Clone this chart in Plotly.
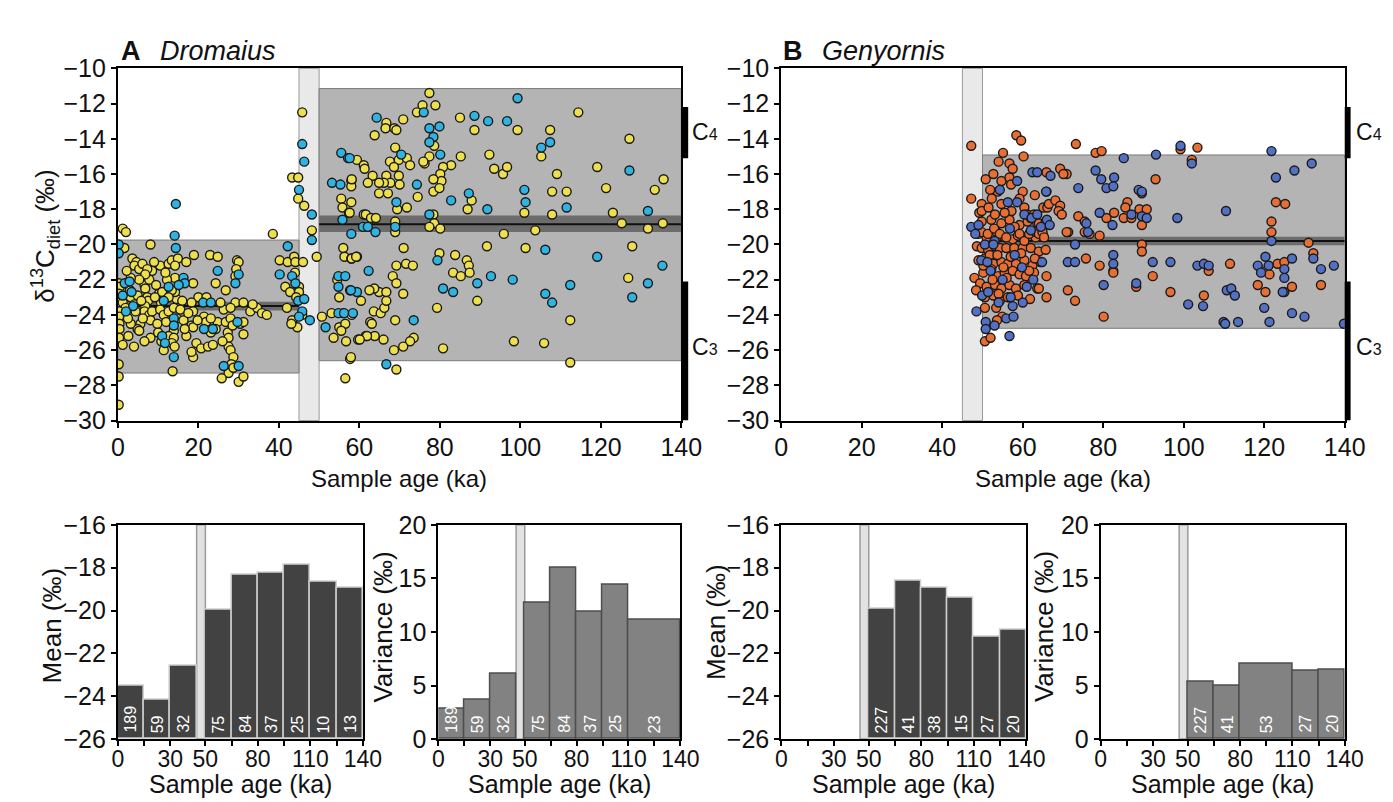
import plotly.graph_objects as go

W, H = 1393, 802
FONT = "Liberation Sans, Arial, Helvetica, sans-serif"

# ---------------- data: (sample age ka, d13C diet permil) ----------------
A_YELLOW = [
    (1.2,-19.1),(2.0,-19.3),(1.6,-20.2),(8.1,-20.0),(38.5,-19.4),
    (3.6,-20.8),(4.6,-21.0),(4.1,-21.2),(5.3,-21.4),(6.1,-21.1),
    (10.5,-21.2),(12.6,-21.1),(13.4,-20.9),(14.9,-20.8),(14.2,-21.2),
    (17.0,-21.0),(18.9,-20.6),(22.9,-20.6),(24.8,-20.7),
    (29.6,-20.9),(30.0,-21.0),(29.4,-21.4),(29.2,-21.8),
    (24.3,-22.2),(26.8,-22.6),(18.7,-22.2),(14.2,-21.9),
    (40.2,-20.9),(42.2,-21.0),(43.8,-20.7),(44.1,-21.0),(46.0,-21.0),
    (41.6,-22.4),(42.8,-22.7),(45.0,-22.4),(45.0,-22.7),(44.3,-23.0),
    (43.3,-24.3),(44.6,-24.7),(45.8,-24.0),(43.1,-24.5),
    (0.3,-22.2),(0.5,-22.4),(0.3,-22.8),(1.0,-23.0),(0.4,-23.3),(1.2,-23.3),(1.9,-23.6),
    (0.3,-23.8),(0.3,-24.1),(0.4,-24.5),(0.4,-24.8),(0.3,-25.3),(1.2,-25.7),
    (0.2,-26.8),(0.2,-27.5),(0.2,-29.1),
    (3.2,-23.0),(4.9,-22.9),(4.1,-23.4),(6.6,-22.3),(6.8,-22.5),(7.3,-23.0),(7.5,-23.2),
    (6.8,-23.5),(6.6,-23.8),(7.8,-24.0),(8.5,-23.8),(8.1,-24.3),(5.6,-24.5),(4.9,-24.8),
    (3.2,-24.5),(5.3,-24.9),(8.1,-25.3),(6.6,-25.5),
    (8.5,-21.5),(7.8,-22.0),(10.2,-22.8),(11.0,-22.7),(10.7,-23.3),(10.5,-23.7),(11.4,-24.0),
    (12.6,-23.8),(13.9,-23.6),(14.6,-23.1),(14.2,-22.7),(13.4,-22.6),(12.6,-23.0),
    (13.9,-24.9),(12.6,-25.2),(13.9,-25.3),(14.6,-24.2),(16.3,-24.3),(13.4,-25.6),(14.1,-25.8),
    (11.4,-26.0),(13.6,-27.2),
    (18.3,-24.6),(18.7,-24.7),(17.0,-25.2),(16.6,-24.8),(18.7,-26.4),(18.3,-26.1),(19.5,-25.6),
    (20.7,-25.9),(22.4,-25.8),(23.6,-25.7),(23.1,-25.0),(24.8,-24.4),(24.3,-24.8),(21.4,-24.1),
    (21.9,-24.4),(23.1,-24.2),(26.3,-23.7),(26.8,-24.4),(28.0,-24.2),(27.3,-25.0),(27.5,-25.3),
    (28.5,-24.6),(27.5,-25.8),(28.0,-26.0),(28.7,-26.4),(28.2,-26.8),(27.5,-27.3),(25.8,-27.6),
    (28.7,-27.0),(30.0,-27.8),(31.2,-27.5),(31.2,-25.1),(30.4,-24.5),(31.2,-24.4),
    (29.2,-23.3),(31.2,-23.3),(28.0,-23.6),(32.9,-23.8),(34.6,-23.6),(35.8,-23.9),
    (7.3,-21.4),(6.8,-21.7),(5.3,-22.0),(3.2,-21.9),
    (20.0,-23.0),(18.3,-23.3),(18.7,-23.8),(2.5,-24.2),(9.5,-22.3),(10.0,-25.0),(16.0,-23.2),
    (2.2,-21.5),(3.0,-22.6),(4.4,-23.8),(5.8,-23.2),(6.2,-24.2),(9.2,-23.0),(9.8,-24.5),
    (10.8,-25.5),(12.0,-24.4),(12.2,-22.0),(2.6,-25.2),(4.0,-25.8),(9.0,-21.0),(11.8,-21.6),
    (15.5,-23.7),(17.5,-23.9),(19.8,-24.3),(22.0,-23.0),(25.5,-23.3),(26.0,-25.5),(33.5,-23.4),
    (37.0,-24.0),(42.0,-23.6),(44.0,-21.6),
    (45.8,-12.5),(43.3,-16.2),(44.8,-16.2),(44.8,-17.4),(46.3,-17.8),(48.2,-19.2),(49.4,-20.7),
    (50.7,-24.1),(53.6,-25.3),(55.0,-24.7),(56.0,-23.9),(56.7,-25.5),(53.1,-23.9),
    (54.5,-22.0),(55.0,-23.0),(56.0,-20.2),(56.3,-20.7),(58.0,-20.8),(59.4,-20.7),
    (56.5,-24.5),(55.5,-24.9),(57.7,-26.5),(56.5,-27.6),(60.4,-23.2),(59.7,-25.4),(61.6,-25.2),
    (59.4,-15.2),(58.0,-16.4),(58.0,-16.7),(61.1,-15.5),(55.5,-17.4),(55.8,-17.9),(58.0,-17.6),
    (57.4,-18.2),(61.1,-18.3),
    (77.4,-11.4),(75.7,-12.1),(78.9,-12.1),(74.3,-12.5),(114.4,-12.5),(66.7,-13.1),(66.5,-13.4),
    (68.7,-13.4),(69.2,-13.5),(70.9,-12.9),(63.8,-13.8),
    (78.6,-14.4),(85.0,-12.8),(88.6,-13.5),(99.3,-13.5),(107.4,-13.5),(105.2,-15.0),(127.1,-14.0),
    (119.1,-15.6),(109.1,-16.0),(135.6,-16.3),(133.4,-16.9),(121.3,-16.8),(107.9,-17.0),
    (111.5,-17.0),(101.0,-18.2),(107.9,-18.3),(123.0,-18.2),(125.2,-18.8),(131.7,-19.1),
    (135.4,-18.8),(95.9,-19.4),(103.7,-19.2),(85.2,-15.0),(92.3,-14.9),(93.5,-15.7),(95.7,-16.0),
    (96.7,-15.6),(86.9,-18.0),(87.9,-17.5),
    (82.8,-15.5),(80.8,-15.6),(80.1,-16.0),(80.4,-16.4),(78.4,-16.3),(78.4,-17.0),(79.9,-16.8),
    (76.2,-15.4),(77.4,-15.0),(74.5,-17.3),
    (67.6,-15.3),(69.8,-15.2),(71.8,-15.1),(68.9,-14.5),(72.6,-15.5),(68.6,-15.6),(69.8,-16.1),
    (66.7,-16.1),(70.0,-16.6),(67.7,-16.5),(66.1,-16.5),(64.9,-16.5),(63.3,-16.1),(62.1,-16.5),
    (61.3,-15.7),(58.1,-16.3),(64.9,-17.1),(67.1,-17.1),(69.4,-18.0),(71.8,-17.9),(57.6,-18.2),
    (61.6,-18.3),(62.9,-18.5),(64.1,-18.5),(68.9,-18.7),(68.9,-19.3),(78.4,-18.3),(78.6,-18.8),
    (77.4,-19.0),(80.1,-19.1),(75.9,-15.3),
    (71.0,-20.2),(79.9,-20.5),(83.8,-20.6),(86.7,-20.9),(87.2,-21.2),(87.4,-21.6),(83.3,-21.6),
    (85.2,-21.8),(91.7,-20.1),(101.3,-20.2),(127.8,-20.1),(126.8,-21.9),(89.3,-23.2),(79.3,-23.6),
    (112.4,-24.3),(98.4,-25.5),(105.9,-25.6),(112.4,-26.7),(80.8,-25.9),(73.5,-25.3),(72.6,-25.5),
    (70.9,-25.8),(68.6,-26.0),(66.0,-25.4),(63.8,-25.2),(61.9,-25.2),(60.1,-25.4),(69.2,-27.1),
    (68.9,-24.3),(57.9,-26.4),(58.1,-24.0),
    (63.6,-23.8),(65.3,-23.9),(66.2,-23.6),(66.7,-23.2),(64.9,-22.7),(66.7,-22.7),(63.7,-22.5),
    (62.5,-22.6),(68.3,-21.8),(69.2,-21.2),(69.2,-22.2),(70.9,-22.8),(71.6,-21.1),(73.3,-21.2),
    (58.1,-20.8),(59.2,-20.7),(62.7,-24.4),(63.1,-24.5),
]
A_CYAN = [
    (14.4,-17.7),(14.1,-19.5),(14.4,-20.2),(42.2,-20.1),(0.2,-20.0),(0.2,-20.5),(45.8,-14.3),
    (46.3,-15.3),(45.0,-16.9),(48.2,-18.3),(48.2,-19.75),
    (24.8,-21.5),(30.0,-21.7),(29.2,-22.2),(16.3,-21.9),(16.6,-22.2),(15.1,-22.3),(40.2,-21.7),
    (43.3,-21.8),(44.1,-22.2),(44.8,-23.2),(46.3,-23.1),(45.8,-23.8),(45.0,-24.1),(47.7,-24.3),
    (1.7,-22.2),(2.9,-22.1),(3.4,-22.7),(3.8,-23.5),(2.0,-23.8),(1.2,-22.9),
    (11.4,-23.2),(12.6,-22.4),(13.9,-24.2),(11.0,-25.2),(11.7,-25.6),(13.9,-26.4),(13.9,-24.6),
    (21.4,-24.8),(23.6,-24.8),(26.3,-26.9),(30.0,-26.9),(21.2,-23.3),(23.1,-23.3),(29.7,-24.4),
    (51.6,-24.7),(54.8,-23.9),(56.2,-23.9),(58.4,-23.9),(54.8,-21.8),(54.8,-22.4),(56.5,-21.8),
    (57.7,-22.6),(59.4,-22.7),(58.0,-19.4),
    (53.2,-16.5),(55.3,-16.6),(55.5,-14.8),(57.2,-15.1),(55.8,-18.6),(60.9,-19.0),
    (76.0,-12.5),(99.3,-11.7),(64.3,-12.8),(77.4,-13.4),(79.9,-13.3),(78.4,-13.9),(77.4,-14.2),
    (80.1,-14.9),(88.6,-12.7),(92.0,-13.0),(96.7,-13.0),(107.4,-14.2),(105.2,-14.5),(127.1,-15.8),
    (101.0,-16.9),(101.3,-17.6),(111.5,-17.9),(131.7,-18.1),(91.8,-18.0),(87.2,-17.1),(82.8,-17.5),
    (74.3,-16.6),(57.6,-15.1),(69.2,-17.6),(62.1,-19.0),(64.0,-19.3),(68.9,-19.0),(77.4,-18.3),
    (70.4,-14.9),
    (79.4,-20.9),(92.7,-21.8),(89.3,-22.2),(98.1,-22.0),(106.2,-20.3),(119.1,-20.7),(135.3,-21.2),
    (131.7,-22.2),(127.8,-23.0),(112.4,-22.3),(106.2,-22.8),(107.9,-23.3),(80.8,-22.5),(83.3,-22.7),
    (73.5,-24.3),(66.7,-26.8),(57.9,-22.6),(62.3,-21.5),
]
B_ORANGE = [
    (49.8,-18.7),(52.2,-18.6),(54.7,-18.8),(56.7,-18.6),(59.2,-18.9),(61.2,-18.7),(63.6,-18.8),
    (64.8,-19.2),(49.0,-19.4),(51.0,-19.6),(53.5,-19.3),(55.5,-19.6),(57.5,-19.7),(58.8,-19.5),
    (60.4,-19.6),(62.0,-19.3),(63.2,-19.6),(65.1,-19.5),
    (48.6,-20.1),(49.8,-20.2),(51.4,-20.3),(53.1,-20.1),(54.3,-20.2),(55.9,-20.2),(57.9,-20.2),
    (60.0,-20.2),(62.0,-20.2),(64.0,-20.4),(65.7,-20.3),
    (49.0,-20.9),(50.6,-20.8),(52.7,-21.1),(54.7,-21.0),(56.3,-21.1),(58.3,-21.1),(60.4,-20.9),
    (62.4,-21.2),(64.4,-21.0),
    (48.0,-21.9),(50.2,-21.6),(52.2,-21.4),(53.9,-21.8),(55.5,-21.6),(57.5,-21.5),(59.2,-21.7),
    (60.8,-21.8),(62.8,-21.6),(65.9,-21.8),
    (49.4,-22.2),(51.0,-22.4),(53.1,-22.3),(54.7,-22.5),(56.7,-22.3),(58.3,-22.5),(60.4,-22.3),
    (63.6,-22.5),(50.6,-23.0),(52.7,-22.9),(54.3,-23.2),(56.3,-23.0),(65.9,-23.0),
    (50.6,-23.6),(54.9,-24.1),(53.6,-24.3),(50.6,-25.5),(52.0,-25.3),
    (51.8,-20.6),(53.7,-20.6),(55.2,-21.3),(57.0,-20.7),(59.6,-20.5),(61.6,-21.5),(63.0,-20.8),
    (50.2,-21.2),(52.5,-22.0),(54.0,-22.8),(56.0,-21.9),(58.8,-22.9),(61.8,-23.1),(53.4,-23.6),
    (48.4,-22.6),(49.2,-18.2),(57.2,-18.1),(60.0,-17.0),(63.0,-17.2),(53.8,-17.0),
    (47.2,-14.4),(58.4,-13.8),(59.6,-14.1),(60.2,-15.0),(55.1,-14.8),(54.0,-15.3),(56.7,-15.4),
    (57.5,-15.7),(50.8,-16.3),(52.7,-16.0),(54.7,-16.4),(56.7,-16.2),(57.1,-16.6),(51.9,-16.9),
    (52.3,-17.4),(47.2,-17.4),(49.8,-17.7),(49.8,-18.1),(51.5,-17.9),(53.1,-18.3),(54.7,-17.7),
    (55.5,-18.2),(59.2,-17.4),(60.4,-17.9),(61.2,-18.3),(62.0,-18.5),(62.8,-18.3),(65.1,-17.9),
    (66.1,-17.9),(65.9,-15.9),(49.8,-19.3),(51.3,-19.4),(52.9,-19.1),(54.3,-19.4),(55.9,-19.6),
    (58.0,-19.0),(59.2,-19.4),(60.4,-19.8),(61.6,-19.4),(63.2,-19.3),(64.8,-19.4),
    (73.2,-14.3),(78.1,-14.8),(79.6,-14.7),(99.2,-14.6),(103.4,-14.5),(102.0,-15.2),(122.9,-17.6),
    (125.2,-17.7),(93.0,-16.3),(69.3,-15.7),(70.9,-16.0),(70.1,-16.0),(66.5,-17.7),(68.1,-17.5),
    (69.3,-17.8),(68.9,-18.1),(69.7,-18.3),(86.0,-17.6),(85.5,-17.9),(85.1,-18.5),(87.0,-18.5),
    (89.0,-18.0),(90.8,-18.0),(89.6,-17.1),(82.7,-18.2),(80.8,-18.5),(73.8,-18.4),(75.4,-18.7),
    (76.6,-19.4),(79.1,-19.5),(71.3,-19.3),(89.6,-18.9),(64.0,-18.8),(64.0,-19.4),(64.9,-19.3),
    (65.3,-19.6),(131.0,-19.9),(121.8,-18.7),(121.8,-19.3),(89.6,-20.0),(89.6,-20.4),
    (132.2,-20.5),(134.1,-22.3),(111.5,-21.1),(120.5,-21.5),(121.3,-21.7),(123.3,-21.1),
    (125.0,-21.0),(118.4,-22.3),(120.3,-22.7),(125.0,-22.7),(126.9,-22.4),(106.2,-21.5),
    (105.0,-22.9),(96.7,-22.7),(92.3,-21.8),(88.2,-22.4),(82.5,-21.5),(82.5,-21.6),(80.1,-24.1),
    (79.1,-21.2),(75.7,-20.8),(71.2,-22.6),(73.0,-23.2),(64.0,-22.5),(70.9,-19.3),(75.4,-19.3),
]
B_BLUE = [
    (47.2,-19.0),(49.7,-20.9),(49.9,-22.9),(50.8,-24.4),(50.8,-24.8),(56.7,-25.2),(54.0,-23.3),
    (60.0,-23.3),(55.9,-24.2),(57.7,-24.1),(57.5,-23.5),(65.7,-18.7),(48.2,-19.4),(62.0,-19.2),
    (64.8,-21.0),(51.4,-22.7),(52.0,-21.5),(55.0,-22.0),(58.0,-20.6),(61.0,-22.4),(53.0,-19.8),
    (51.2,-21.0),(56.8,-19.1),(59.8,-21.3),(62.6,-22.0),(48.5,-23.8),(53.0,-24.6),(57.0,-23.0),
    (58.6,-16.4),(54.3,-16.9),(56.3,-17.6),(58.6,-17.6),(60.4,-18.3),(62.2,-18.5),(63.6,-18.3),
    (62.4,-15.9),(63.6,-15.9),(65.9,-17.0),(66.9,-16.1),(49.0,-18.9),(50.6,-20.0),(52.7,-20.0),
    (85.1,-15.1),(93.1,-14.9),(99.2,-14.4),(102.0,-15.4),(121.8,-14.7),(131.8,-15.4),(127.5,-15.8),
    (122.9,-16.2),(110.5,-18.1),(98.4,-18.5),(78.1,-15.8),(79.5,-16.3),(82.7,-16.2),(80.8,-16.8),
    (82.5,-16.7),(73.8,-16.8),(65.8,-17.0),(88.8,-16.9),(89.6,-17.0),(87.0,-18.3),(89.6,-18.4),
    (90.8,-18.5),(82.3,-18.9),(79.1,-18.2),(75.8,-18.8),(76.2,-19.3),(73.0,-20.0),(66.0,-18.6),
    (66.7,-18.9),(64.5,-19.0),(121.8,-19.8),
    (132.2,-20.8),(137.3,-21.2),(134.1,-21.4),(139.8,-24.5),(130.0,-24.1),(126.9,-23.9),
    (121.3,-24.4),(120.0,-23.6),(113.5,-24.4),(109.9,-24.4),(110.3,-24.5),(110.7,-22.6),
    (111.8,-22.5),(112.7,-22.9),(118.4,-21.2),(119.2,-21.6),(120.3,-20.7),(121.1,-21.2),
    (125.0,-21.4),(125.0,-21.9),(126.9,-20.8),(124.6,-22.7),(103.4,-21.2),(105.0,-21.1),
    (106.2,-21.2),(104.8,-23.5),(101.1,-23.4),(96.7,-21.0),(92.3,-21.0),(88.2,-22.2),(82.5,-20.6),
    (82.5,-21.1),(80.1,-22.3),(71.2,-21.0),(73.0,-21.0),
]

# period summaries of the top panels (age start/end, mean, mean band, range)
A_PER_START = [0, 50]
A_PER_END = [45, 140]
A_PER_MEAN = [-23.5, -18.85]
A_PER_BAND_LO = [-23.75, -19.3]
A_PER_BAND_HI = [-23.25, -18.35]
A_PER_MIN = [-27.3, -26.6]
A_PER_MAX = [-19.75, -11.15]
B_PER_START = [50]
B_PER_END = [140]
B_PER_MEAN = [-19.8]
B_PER_BAND_LO = [-20.05]
B_PER_BAND_HI = [-19.57]
B_PER_MIN = [-24.76]
B_PER_MAX = [-14.92]
GAP_START, GAP_END = 45, 50
C4_RANGE = (-12.2, -15.1)
C3_RANGE = (-22.1, -30.0)

# binned statistics (bottom panels)
A_MEAN_LEFT = [0, 15, 30, 50, 65, 80, 95, 110, 125]
A_MEAN_RIGHT = [15, 30, 45, 65, 80, 95, 110, 125, 140]
A_MEAN = [-23.5, -24.15, -22.6, -19.98, -18.32, -18.25, -17.89, -18.68, -18.93]
A_MEAN_N = [189, 59, 32, 75, 84, 37, 25, 10, 13]
A_VAR_LEFT = [0, 15, 30, 50, 65, 80, 95, 110]
A_VAR_RIGHT = [15, 30, 45, 65, 80, 95, 110, 140]
A_VAR = [2.8, 3.65, 6.1, 12.7, 16.0, 11.9, 14.4, 11.1]
A_VAR_N = [189, 59, 32, 75, 84, 37, 25, 23]
B_MEAN_LEFT = [50, 65, 80, 95, 110, 125]
B_MEAN_RIGHT = [65, 80, 95, 110, 125, 140]
B_MEAN = [-19.92, -18.62, -18.96, -19.41, -21.23, -20.89]
B_MEAN_N = [227, 41, 38, 15, 27, 20]
B_VAR_LEFT = [50, 65, 80, 110, 125]
B_VAR_RIGHT = [65, 80, 110, 125, 140]
B_VAR = [5.3, 4.93, 7.02, 6.35, 6.44]
B_VAR_N = [227, 41, 53, 27, 20]

MEAN_FLOOR = -26
TOP_XTICKS = [0, 20, 40, 60, 80, 100, 120, 140]
BOT_XTICKS = [0, 30, 50, 80, 110, 140]
BOT_XMINOR = [15, 65, 95, 125]

# ---------------- styles / layout helpers ----------------
COL_YEL, COL_CYAN = '#EEDF4E', '#2FB3E3'
COL_ORA, COL_BLUE = '#E86F33', '#5371C4'


def fx(px):
    return px / W


def fy(py):
    return 1 - py / H


def axis(dom, rng, anchor, size=25, **kw):
    d = dict(domain=dom, range=rng, anchor=anchor, showline=True, linecolor='black',
             linewidth=2, mirror=True, ticks='outside', ticklen=5, tickwidth=2,
             tickcolor='black', showgrid=False, zeroline=False,
             tickfont=dict(family=FONT, size=size, color='#111111'))
    d.update(kw)
    return d


fig = go.Figure()


def scatter(points, color, xa, ya):
    fig.add_trace(go.Scatter(
        x=[p[0] for p in points], y=[p[1] for p in points], mode='markers',
        xaxis=xa, yaxis=ya, cliponaxis=True, showlegend=False,
        marker=dict(size=9, color=color, line=dict(color='#1a1a1a', width=1.4))))


shapes = []
annotations = []


def period_boxes(xr, yr, starts, ends, means, lo, hi, mins, maxs):
    shapes.append(dict(type='rect', xref=xr, yref=yr + ' domain', x0=GAP_START, x1=GAP_END,
                       y0=0, y1=1, fillcolor='#e9e9e9', line=dict(color='#9a9a9a', width=1),
                       layer='below'))
    for s, e, m, l, h, mn, mx in zip(starts, ends, means, lo, hi, mins, maxs):
        shapes.append(dict(type='rect', xref=xr, yref=yr, x0=s, x1=e, y0=mn, y1=mx,
                           fillcolor='#b4b4b4', line=dict(color='#7a7a7a', width=1), layer='below'))
        shapes.append(dict(type='rect', xref=xr, yref=yr, x0=s, x1=e, y0=l, y1=h,
                           fillcolor='#6c6c6c', line=dict(width=0), layer='below'))
        shapes.append(dict(type='line', xref=xr, yref=yr, x0=s, x1=e, y0=m, y1=m,
                           line=dict(color='#111111', width=2), layer='below'))


def c_bars(px0, yr, lab_px):
    for rng, lab, ymid in ((C4_RANGE, '4', -13.6), (C3_RANGE, '3', -25.8)):
        shapes.append(dict(type='rect', xref='paper', yref=yr, x0=fx(px0), x1=fx(px0 + 6),
                           y0=rng[0], y1=rng[1], fillcolor='black', line=dict(width=0)))
        annotations.append(dict(xref='paper', yref=yr, x=fx(lab_px), y=ymid, xanchor='left',
                                yanchor='middle', showarrow=False,
                                text="C<span style='font-size:16px'>" + lab + "</span>",
                                font=dict(family=FONT, size=23, color='#111111')))


def bars(left, right, vals, counts, xa, ya, base, color, edge):
    centers = [(a + b) / 2 for a, b in zip(left, right)]
    widths = [b - a for a, b in zip(left, right)]
    fig.add_trace(go.Bar(x=centers, y=[v - base for v in vals], base=base, width=widths,
                         xaxis=xa, yaxis=ya, showlegend=False,
                         marker=dict(color=color, line=dict(color=edge, width=1.5))))
    for c, n in zip(centers, counts):
        annotations.append(dict(xref=xa, yref=ya, x=c, y=base, yanchor='bottom', yshift=4,
                                textangle=-90, showarrow=False, text=str(n),
                                font=dict(family=FONT, size=16, color='white')))
    shapes.append(dict(type='rect', xref=xa, yref=ya + ' domain', x0=GAP_START, x1=GAP_END,
                       y0=0, y1=1, fillcolor='#e2e2e2', line=dict(color='#9a9a9a', width=1.5),
                       layer='below'))


# top panels
period_boxes('x', 'y', A_PER_START, A_PER_END, A_PER_MEAN, A_PER_BAND_LO, A_PER_BAND_HI,
             A_PER_MIN, A_PER_MAX)
period_boxes('x2', 'y2', B_PER_START, B_PER_END, B_PER_MEAN, B_PER_BAND_LO, B_PER_BAND_HI,
             B_PER_MIN, B_PER_MAX)
scatter(A_YELLOW, COL_YEL, 'x', 'y')
scatter(A_CYAN, COL_CYAN, 'x', 'y')
scatter(B_ORANGE, COL_ORA, 'x2', 'y2')
scatter(B_BLUE, COL_BLUE, 'x2', 'y2')
c_bars(681, 'y', 689)
c_bars(1357, 'y2', 1366)

# bottom panels
bars(A_MEAN_LEFT, A_MEAN_RIGHT, A_MEAN, A_MEAN_N, 'x3', 'y3', MEAN_FLOOR, '#424242', '#cfcfcf')
bars(A_VAR_LEFT, A_VAR_RIGHT, A_VAR, A_VAR_N, 'x4', 'y4', 0, '#828282', '#4e4e4e')
bars(B_MEAN_LEFT, B_MEAN_RIGHT, B_MEAN, B_MEAN_N, 'x5', 'y5', MEAN_FLOOR, '#424242', '#cfcfcf')
bars(B_VAR_LEFT, B_VAR_RIGHT, B_VAR, B_VAR_N, 'x6', 'y6', 0, '#828282', '#4e4e4e')


def text(px, py, s, size, angle=0, xanchor='center', yanchor='middle'):
    annotations.append(dict(xref='paper', yref='paper', x=fx(px), y=fy(py), text=s,
                            textangle=angle, xanchor=xanchor, yanchor=yanchor, showarrow=False,
                            font=dict(family=FONT, size=size, color='#111111')))


# panel headings
text(106, 30, '<b>A</b>', 27, xanchor='left')
text(146, 30, '<i>Dromaius</i>', 27, xanchor='left')
text(782, 30, '<b>B</b>', 27, xanchor='left')
text(822, 30, '<i>Genyornis</i>', 27, xanchor='left')
# axis titles
text(31, 222, 'δ<sup>13</sup>C<sub>diet</sub> (‰)', 26, angle=-90)
text(392, 473, 'Sample age (ka)', 24)
text(1070, 473, 'Sample age (ka)', 24)
text(38, 625, 'Mean (‰)', 26, angle=-90)
text(376, 627, 'Variance (‰)', 26, angle=-90)
text(716, 622, 'Mean (‰)', 26, angle=-90)
text(1050, 626, 'Variance (‰)', 26, angle=-90)
for cx in (230, 556, 907, 1232):
    text(cx, 790, 'Sample age (ka)', 25)

top_y = [fy(413), fy(48)]
bot_y = [fy(743), fy(521)]
BOTX = dict(size=23, tickvals=BOT_XTICKS, ticklabelstandoff=-7,
            minor=dict(tickvals=BOT_XMINOR, ticks='outside', ticklen=5, tickwidth=2,
                       tickcolor='black', showgrid=False))
fig.update_layout(
    width=W, height=H, margin=dict(l=0, r=0, t=0, b=0),
    paper_bgcolor='white', plot_bgcolor='rgba(0,0,0,0)', showlegend=False,
    bargap=0,
    xaxis=axis([fx(105), fx(680)], [0, 140], 'y', tickvals=TOP_XTICKS, ticklabelstandoff=-2),
    yaxis=axis(top_y, [-30, -10], 'x', dtick=2),
    xaxis2=axis([fx(782), fx(1357)], [0, 140], 'y2', tickvals=TOP_XTICKS, ticklabelstandoff=-2),
    yaxis2=axis(top_y, [-30, -10], 'x2', dtick=2),
    xaxis3=axis([fx(105), fx(355)], [0, 140], 'y3', **BOTX),
    yaxis3=axis(bot_y, [-26, -16], 'x3', dtick=2),
    xaxis4=axis([fx(432), fx(679)], [0, 140], 'y4', **BOTX),
    yaxis4=axis(bot_y, [0, 20], 'x4', dtick=5),
    xaxis5=axis([fx(782), fx(1032)], [0, 140], 'y5', **BOTX),
    yaxis5=axis(bot_y, [-26, -16], 'x5', dtick=2),
    xaxis6=axis([fx(1108), fx(1357)], [0, 140], 'y6', **BOTX),
    yaxis6=axis(bot_y, [0, 20], 'x6', dtick=5),
    shapes=shapes, annotations=annotations,
)

fig.write_html("out.html")
